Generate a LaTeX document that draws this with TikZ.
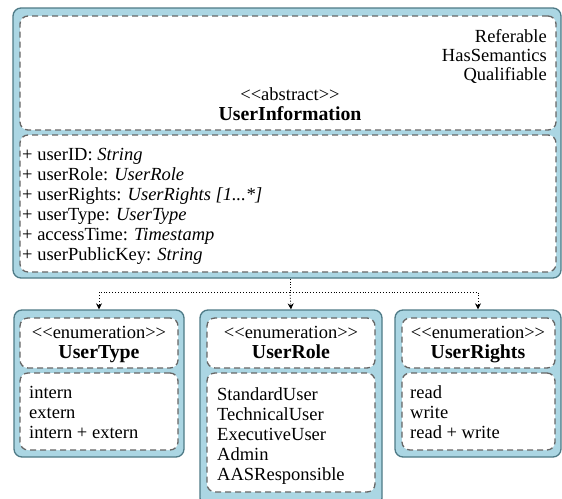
\documentclass[tikz,border=0pt]{standalone}
\usepackage{fontspec}
\setmainfont{Liberation Serif}
\usetikzlibrary{arrows.meta}
\definecolor{outerfill}{HTML}{ABD6E3}
\definecolor{outerline}{HTML}{4E7A86}
\definecolor{dashline}{HTML}{666666}
\newcommand{\fs}{\fontsize{18.5}{20}\selectfont}
\newcommand{\bfs}{\fontsize{19.8}{20}\selectfont\bfseries}
\newcommand{\lt}{<\kern0pt<}
\newcommand{\gt}{>\kern0pt>}
\tikzset{
  outerbox/.style={draw=outerline, fill=outerfill, line width=1.3pt, rounded corners=8pt, inner sep=0pt},
  innerbox/.style={draw=dashline, fill=white, line width=1.3pt, dash pattern=on 6pt off 4pt, rounded corners=8pt, inner sep=0pt},
  txt/.style={font=\fs, inner sep=0pt, text=black},
  btxt/.style={font=\bfs, inner sep=0pt, text=black},
  conn/.style={dotted, line width=0.9pt, -{Stealth[length=6pt,width=6pt]}},
  conn0/.style={dotted, line width=0.9pt}
}
\newcommand{\boxat}[6]{% style, name, x1, y1, x2, y2
  \node[#1, minimum width={#5-#3}, minimum height={#6-#4}] (#2) at ({(#3+#5)/2},{(#4+#6)/2}) {};}
\begin{document}
\begin{tikzpicture}[x=1pt,y=-1pt]
\useasboundingbox (0,0) rectangle (562,498);
\clip (0,0) rectangle (562,498);
% main class
\boxat{outerbox}{main}{13}{8}{561}{278}
\boxat{innerbox}{mainhead}{20}{16}{556}{130}
\boxat{innerbox}{mainbody}{20}{135}{556}{272}
\node[txt, anchor=base east] (ref) at (547,42) {Referable};
\node[txt, anchor=base east] (hassem) at (547,61) {HasSemantics};
\node[txt, anchor=base east] (qual) at (547,80) {Qualifiable};
\node[txt, anchor=base] (abs) at (290,100) {\lt abstract\gt};
\node[btxt, anchor=base] (uiname) at (290,120) {UserInformation};
\node[txt, anchor=base west] (a1) at (22,160) {+ userID: \textit{String}};
\node[txt, anchor=base west] (a2) at (22,180) {+ userRole: \textit{UserRole}};
\node[txt, anchor=base west] (a3) at (22,200) {+ userRights: \textit{UserRights [1...*]}};
\node[txt, anchor=base west] (a4) at (22,220) {+ userType: \textit{UserType}};
\node[txt, anchor=base west] (a5) at (22,240) {+ accessTime: \textit{Timestamp}};
\node[txt, anchor=base west] (a6) at (22,260) {+ userPublicKey: \textit{String}};
% UserType
\boxat{outerbox}{ut}{14}{310}{184}{457}
\boxat{innerbox}{uthead}{20}{318}{178}{368}
\boxat{innerbox}{utbody}{20}{373}{178}{450}
\node[txt, anchor=base] (ute) at (99,338) {\lt enumeration\gt};
\node[btxt, anchor=base] (utn) at (99,358) {UserType};
\node[txt, anchor=base west] (ut1) at (29,398) {intern};
\node[txt, anchor=base west] (ut2) at (29,418) {extern};
\node[txt, anchor=base west] (ut3) at (29,438) {intern + extern};
% UserRole
\boxat{outerbox}{ur}{200}{310}{382}{506}
\boxat{innerbox}{urhead}{207}{318}{375}{368}
\boxat{innerbox}{urbody}{207}{373}{375}{492}
\node[txt, anchor=base] (ure) at (291,338) {\lt enumeration\gt};
\node[btxt, anchor=base] (urn) at (291,358) {UserRole};
\node[txt, anchor=base west] (ur1) at (217,400) {StandardUser};
\node[txt, anchor=base west] (ur2) at (217,420) {TechnicalUser};
\node[txt, anchor=base west] (ur3) at (217,440) {ExecutiveUser};
\node[txt, anchor=base west] (ur4) at (217,460) {Admin};
\node[txt, anchor=base west] (ur5) at (217,480) {AASResponsible};
% UserRights
\boxat{outerbox}{uri}{395}{310}{561}{457}
\boxat{innerbox}{urihead}{402}{318}{555}{368}
\boxat{innerbox}{uribody}{402}{373}{555}{450}
\node[txt, anchor=base] (urie) at (478,338) {\lt enumeration\gt};
\node[btxt, anchor=base] (urin) at (478,358) {UserRights};
\node[txt, anchor=base west] (uri1) at (410,398) {read};
\node[txt, anchor=base west] (uri2) at (410,418) {write};
\node[txt, anchor=base west] (uri3) at (410,438) {read + write};
% connectors
\coordinate (j) at (290,292);
\draw[conn0] (j |- main.south) -- (j);
\draw[conn] (j) -| (ut.north);
\draw[conn] (j) -- (ur.north);
\draw[conn] (j) -| (uri.north);
\end{tikzpicture}
\end{document}
